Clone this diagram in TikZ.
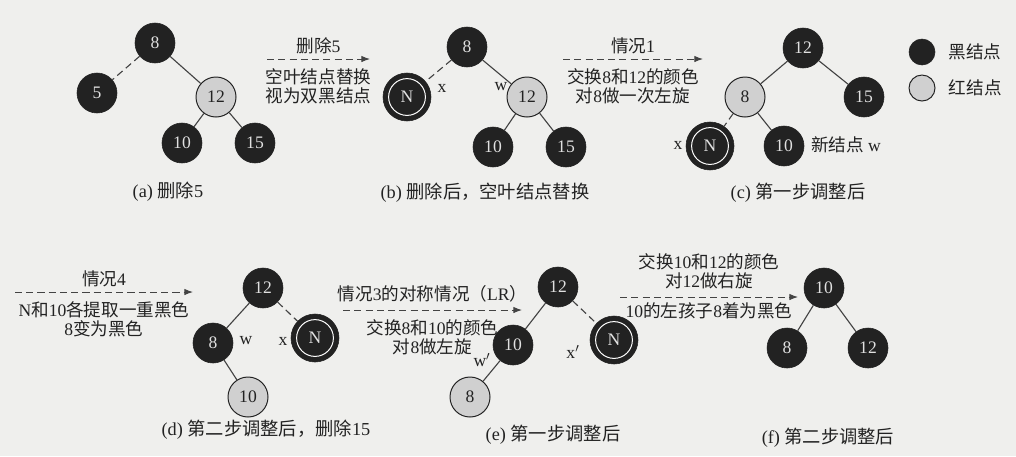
\documentclass[tikz,border=0pt]{standalone}
\usepackage{fontspec}
\setmainfont{Liberation Serif}
\newfontfamily\cjk{Noto Sans CJK SC}
\usetikzlibrary{arrows.meta, positioning}

% switch to the CJK font for Chinese characters
\XeTeXinterchartokenstate=1
\newXeTeXintercharclass\zhclass
\count255="4E00
\loop \XeTeXcharclass\count255=\zhclass \ifnum\count255<"9FFF \advance\count255 by 1 \repeat
\XeTeXcharclass"FF08=\zhclass
\XeTeXcharclass"FF09=\zhclass
\XeTeXcharclass"FF0C=\zhclass
\XeTeXinterchartoks 0 \zhclass = {\begingroup\cjk}
\XeTeXinterchartoks 4095 \zhclass = {\begingroup\cjk}
\XeTeXinterchartoks \zhclass 0 = {\endgroup}
\XeTeXinterchartoks \zhclass 4095 = {\endgroup}

\definecolor{paper}{HTML}{EFEFED}
\definecolor{ink}{HTML}{222222}
\definecolor{redgray}{HTML}{D0D0D0}

\tikzset{
    blacknode/.style={circle, fill=ink, draw=ink, minimum size=1cm, inner sep=0pt,
        text=white!88!black, font=\fontsize{12.5}{12.5}\selectfont},
    rednode/.style={circle, fill=redgray, draw=ink, line width=0.7pt, minimum size=1cm,
        inner sep=0pt, text=ink, font=\fontsize{12.5}{12.5}\selectfont},
    dblnode/.style={blacknode, minimum size=1.2cm,
        path picture={\draw[white, line width=0.7pt] (path picture bounding box.center) circle (0.46cm);}},
    treeline/.style={draw=ink!85, line width=0.8pt},
    nullline/.style={treeline, dash pattern=on 5pt off 3pt},
    steparrow/.style={->, draw=ink!85, line width=0.7pt, dash pattern=on 5pt off 3pt},
    steptext/.style={text=ink, align=center, font=\fontsize{12.5}{13.5}\selectfont},
    tag/.style={text=ink, font=\fontsize{12.5}{12.5}\selectfont},
    caption/.style={text=ink, font=\fontsize{13}{13}\selectfont}
}

\begin{document}
\begin{tikzpicture}[>=LaTeX, x=0.025cm, y=-0.025cm, font=\fontsize{12.5}{13.5}\selectfont]

        % Paper background.
        \fill[paper] (0,0) rectangle (1016,456);
        \useasboundingbox (0,0) rectangle (1016,456);

        % (a) the tree before deleting 5.
        \node[blacknode] (a8)  at (155, 43) {8};
        \node[blacknode] (a5)  at ( 97, 93) {5};
        \node[rednode]   (a12) at (216, 97) {12};
        \node[blacknode] (a10) at (182,143) {10};
        \node[blacknode] (a15) at (255,143) {15};
        \draw[nullline] (a8) -- (a5);
        \draw[treeline] (a8) -- (a12) (a12) -- (a10) (a12) -- (a15);
        \node[caption] (capa) at (168,192) {(a) 删除5};

        % Step arrow from (a) to (b).
        \coordinate (s1) at (267,59);
        \coordinate (e1) at (370,59);
        \draw[steparrow] (s1) to node[steptext, above] {删除5}
            node[steptext, below=3pt] {空叶结点替换\\视为双黑结点} (e1);

        % (b) the null leaf becomes a double black node.
        \node[blacknode] (b8)  at (467, 47) {8};
        \node[dblnode]   (bN)  at (407, 97) {N};
        \node[rednode]   (b12) at (527, 97) {12};
        \node[blacknode] (b10) at (493,147) {10};
        \node[blacknode] (b15) at (566,147) {15};
        \draw[nullline] (b8) -- (bN);
        \draw[treeline] (b8) -- (b12) (b12) -- (b10) (b12) -- (b15);
        \node[tag] (bx) at (442,88) {x};
        \node[tag] (bw) at (501,87) {w};
        \node[caption] (capb) at (485,193) {(b) 删除后，空叶结点替换};

        % Step arrow from (b) to (c).
        \coordinate (s2) at (563,59);
        \coordinate (e2) at (703,59);
        \draw[steparrow] (s2) to node[steptext, above] {情况1}
            node[steptext, below=3pt] {交换8和12的颜色\\对8做一次左旋} (e2);

        % (c) after the first rotation.
        \node[blacknode] (c12) at (803, 48) {12};
        \node[rednode]   (c8)  at (745, 97) {8};
        \node[blacknode] (c15) at (864, 97) {15};
        \node[dblnode]   (cN)  at (710,146) {N};
        \node[blacknode] (c10) at (784,146) {10};
        \draw[treeline] (c12) -- (c8) (c12) -- (c15) (c8) -- (c10);
        \draw[nullline] (c8) -- (cN);
        \node[tag] (cx) at (678,145) {x};
        \node[tag] (cw) at (846,145) {新结点 w};
        \node[caption] (capc) at (798,193) {(c) 第一步调整后};

        % Legend.
        \node[blacknode, minimum size=0.65cm] (keyb) at (922,52) {};
        \node[rednode, minimum size=0.65cm]   (keyr) at (922,88) {};
        \node[tag, right=6pt of keyb] (keybt) {黑结点};
        \node[tag, right=6pt of keyr] (keyrt) {红结点};

        % Step arrow into (d).
        \coordinate (s3) at ( 15,292);
        \coordinate (e3) at (193,292);
        \draw[steparrow] (s3) to node[steptext, above] {情况4}
            node[steptext, below=3pt] {N和10各提取一重黑色\\8变为黑色} (e3);

        % (d) after case 4, 15 is deleted.
        \node[blacknode] (d12) at (263,288) {12};
        \node[blacknode] (d8)  at (213,343) {8};
        \node[dblnode]   (dN)  at (315,338) {N};
        \node[rednode]   (d10) at (248,397) {10};
        \draw[treeline] (d12) -- (d8) (d8) -- (d10);
        \draw[nullline] (d12) -- (dN);
        \node[tag] (dw) at (246,341) {w};
        \node[tag] (dx) at (283,341) {x};
        \node[caption] (capd) at (266,430) {(d) 第二步调整后，删除15};

        % Step arrow from (d) to (e).
        \coordinate (s4) at (343,310);
        \coordinate (e4) at (522,310);
        \draw[steparrow] (s4) to node[steptext, above=2pt] {情况3的对称情况（LR）}
            node[steptext, below=3pt] {交换8和10的颜色\\对8做左旋} (e4);

        % (e) after the left rotation at 8.
        \node[blacknode] (e12) at (558,287) {12};
        \node[blacknode] (e10) at (513,345) {10};
        \node[dblnode]   (eN)  at (614,340) {N};
        \node[rednode]   (e8)  at (470,397) {8};
        \draw[treeline] (e12) -- (e10) (e10) -- (e8);
        \draw[nullline] (e12) -- (eN);
        \node[tag] (ew) at (482,360) {w$'$};
        \node[tag] (ex) at (573,352) {x$'$};
        \node[caption] (cape) at (553,435) {(e) 第一步调整后};

        % Step arrow from (e) to (f).
        \coordinate (s5) at (620,297);
        \coordinate (e5) at (798,297);
        \draw[steparrow] (s5) to node[steptext, above=2pt] {交换10和12的颜色\\对12做右旋}
            node[steptext, below] {10的左孩子8着为黑色} (e5);

        % (f) the final tree.
        \node[blacknode] (f10) at (824,288) {10};
        \node[blacknode] (f8)  at (787,348) {8};
        \node[blacknode] (f12) at (868,348) {12};
        \draw[treeline] (f10) -- (f8) (f10) -- (f12);
        \node[caption] (capf) at (828,438) {(f) 第二步调整后};
    \end{tikzpicture}
\end{document}
